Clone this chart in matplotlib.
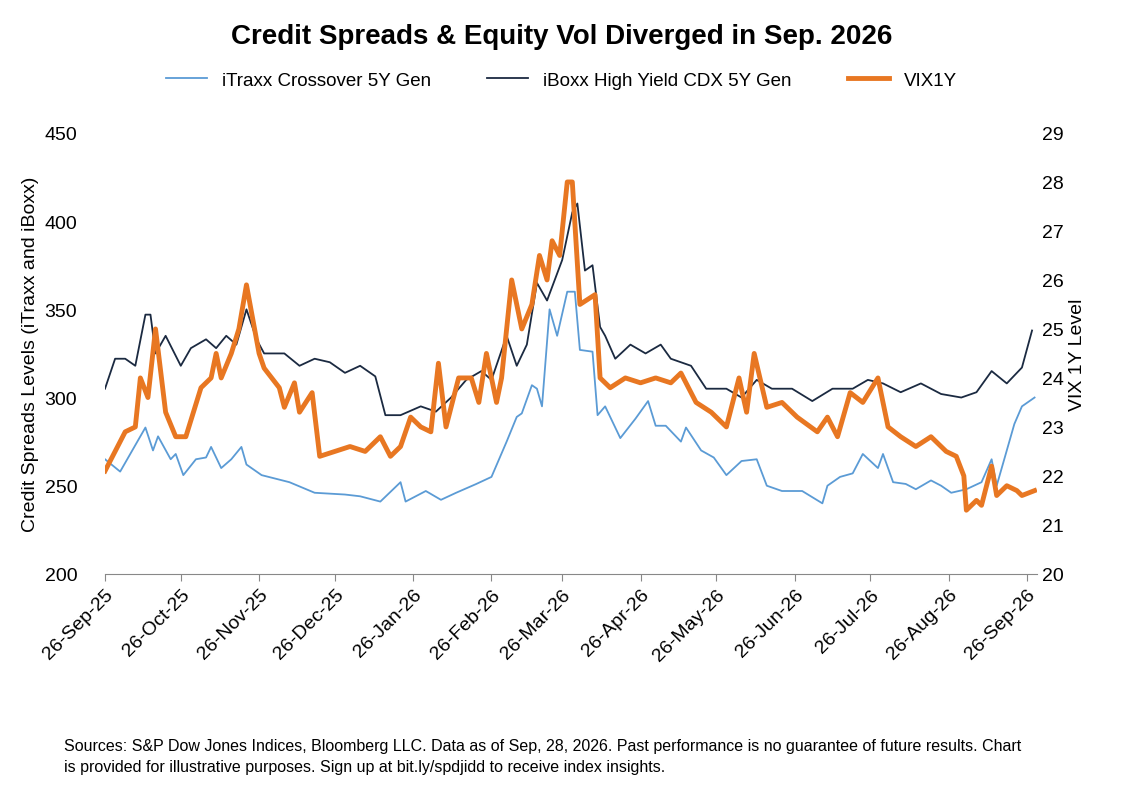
import matplotlib
matplotlib.use("Agg")
import matplotlib.pyplot as plt
import numpy as np
import pandas as pd

start = pd.Timestamp("2025-09-26")

itraxx_days = [0,6,16,19,21,26,28,31,36,40,42,46,50,54,56,62,73,83,95,101,109,117,119,127,133,139,147,153,159,163,165,169,171,173,176,179,183,186,188,193,195,198,204,210,215,218,222,228,230,236,241,246,252,258,262,268,276,284,286,291,296,300,306,308,312,317,321,327,331,335,341,347,351,353,356,360,363,368]
itraxx_vals = [265,258,283,270,278,265,268,256,265,266,272,260,265,272,262,256,252,246,245,244,241,252,241,247,242,246,251,255,275,289,291,307,305,295,350,335,360,360,327,326,290,295,277,288,298,284,284,275,283,270,266,256,264,265,250,247,247,240,250,255,257,268,260,268,252,251,248,253,250,246,248,252,265,250,265,285,295,300]

iboxx_days = [0,4,8,12,16,18,20,24,30,34,40,44,48,52,56,60,63,71,77,83,89,95,101,107,111,117,125,131,137,143,149,153,159,163,167,171,175,181,185,187,190,193,196,198,202,208,214,220,224,232,238,246,252,258,264,272,280,288,296,302,308,315,323,331,339,345,351,357,363,367]
iboxx_vals = [305,322,322,318,347,347,325,335,318,328,333,328,335,330,350,333,325,325,318,322,320,314,318,312,290,290,295,292,300,310,315,310,335,318,330,365,355,378,405,410,372,375,340,335,322,330,325,330,322,318,305,305,300,310,305,305,298,305,305,310,308,303,308,302,300,303,315,308,317,338]

vix_days = [0,4,8,12,14,17,20,24,28,32,35,38,42,44,46,50,53,56,61,63,69,71,75,77,82,85,91,97,103,109,113,117,121,125,129,132,135,140,145,148,151,155,157,161,165,169,172,175,177,180,183,185,188,194,196,200,206,212,218,224,228,234,240,246,251,254,257,262,268,274,282,286,290,295,300,306,310,315,321,327,333,337,340,341,345,347,351,353,357,361,363,368]
vix_vals = [22.1,22.5,22.9,23.0,24.0,23.6,25.0,23.3,22.8,22.8,23.3,23.8,24.0,24.5,24.0,24.5,25.0,25.9,24.5,24.2,23.8,23.4,23.9,23.3,23.7,22.4,22.5,22.6,22.5,22.8,22.4,22.6,23.2,23.0,22.9,24.3,23.0,24.0,24.0,23.5,24.5,23.5,24.0,26.0,25.0,25.5,26.5,26.0,26.8,26.5,28.0,28.0,25.5,25.7,24.0,23.8,24.0,23.9,24.0,23.9,24.1,23.5,23.3,23.0,24.0,23.3,24.5,23.4,23.5,23.2,22.9,23.2,22.8,23.7,23.5,24.0,23.0,22.8,22.6,22.8,22.5,22.4,22.0,21.3,21.5,21.4,22.2,21.6,21.8,21.7,21.6,21.7]

tick_labels = ["26-Sep-25","26-Oct-25","26-Nov-25","26-Dec-25","26-Jan-26","26-Feb-26","26-Mar-26","26-Apr-26","26-May-26","26-Jun-26","26-Jul-26","26-Aug-26","26-Sep-26"]

def to_dates(d):
    return [start + pd.Timedelta(days=int(x)) for x in d]

plt.rcParams['font.family'] = ['Liberation Sans', 'DejaVu Sans']
fig = plt.figure(figsize=(11.23, 8.12), dpi=100)
ax = fig.add_axes([0.0935, 0.292, 0.83, 0.543])
ax2 = ax.twinx()

l1, = ax.plot(to_dates(itraxx_days), itraxx_vals, color="#5B9BD5", lw=1.3, label="iTraxx Crossover 5Y Gen")
l2, = ax.plot(to_dates(iboxx_days), iboxx_vals, color="#1B2A41", lw=1.3, label="iBoxx High Yield CDX 5Y Gen")
l3, = ax2.plot(to_dates(vix_days), vix_vals, color="#E87722", lw=3.5, label="VIX1Y")

ax.set_ylim(200, 450)
ax.set_yticks(range(200, 451, 50))
ax2.set_ylim(20, 29)
ax2.set_yticks(range(20, 30))
ax.set_xlim(start, start + pd.Timedelta(days=369))
ticks = [pd.Timestamp(pd.to_datetime(t, format="%d-%b-%y")) for t in tick_labels]
ax.set_xticks(ticks)
ax.set_xticklabels(tick_labels, rotation=45, ha="right", rotation_mode="anchor", fontsize=14)
for a in (ax, ax2):
    for s in ("top", "right", "left"):
        a.spines[s].set_visible(False)
    a.tick_params(axis="y", length=0, labelsize=14)
ax.tick_params(axis="y", pad=20)
ax2.spines["bottom"].set_visible(False)
ax.spines["bottom"].set_color("#888888")
ax.tick_params(axis="x", length=5, color="#888888", labelsize=14)
ax.set_ylabel("Credit Spreads Levels (iTraxx and iBoxx)", fontsize=14, labelpad=4)
ax2.set_ylabel("VIX 1Y Level", fontsize=14)

fig.text(0.5, 0.955, "Credit Spreads & Equity Vol Diverged in Sep. 2026", ha="center", va="center", fontsize=20, fontweight="bold")
fig.legend(handles=[l1, l2, l3], loc="center", bbox_to_anchor=(0.5, 0.9), ncol=3, frameon=False, fontsize=13.5, columnspacing=3, handlelength=2.2)
fig.text(0.057, 0.068, "Sources: S&P Dow Jones Indices, Bloomberg LLC. Data as of Sep, 28, 2026. Past performance is no guarantee of future results. Chart\nis provided for illustrative purposes. Sign up at bit.ly/spdjidd to receive index insights.", ha="left", va="center", fontsize=11.5, linespacing=1.5)

fig.savefig("out.png", dpi=100)
